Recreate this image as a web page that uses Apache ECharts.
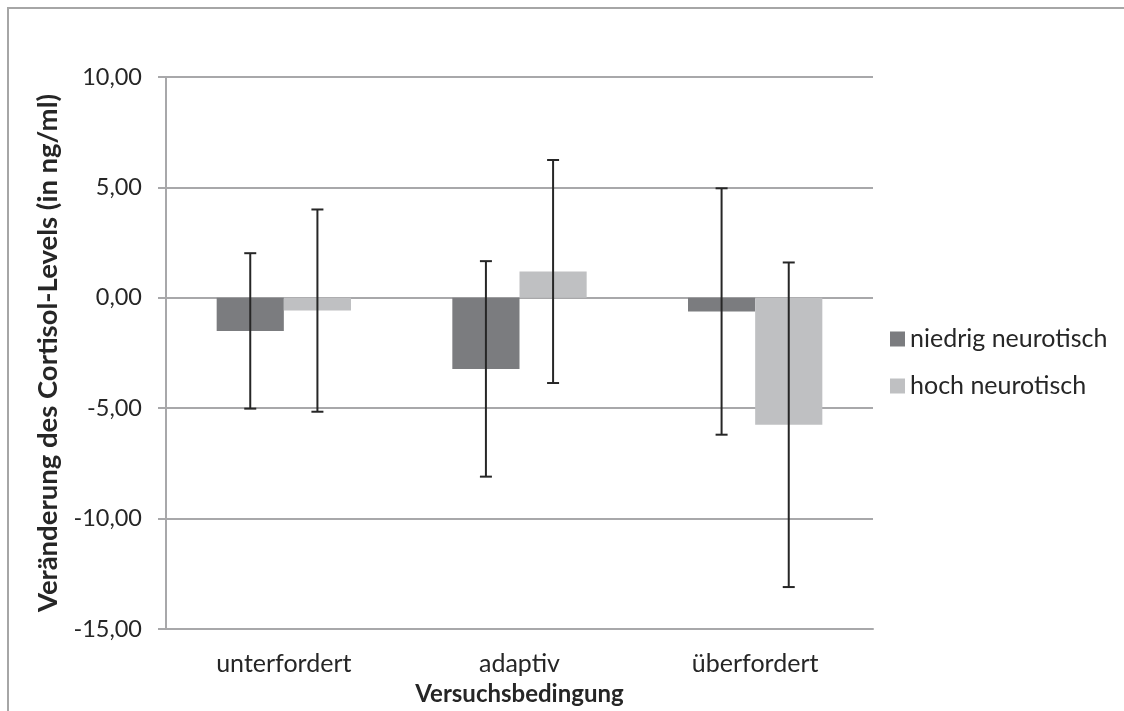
<!DOCTYPE html>
<html>
<head>
<meta charset="utf-8">
<script src="https://cdn.jsdelivr.net/npm/echarts@6/dist/echarts.min.js"></script>
<style>
  html, body { margin: 0; padding: 0; background: #fff; }
  #chart { width: 1124px; height: 711px; }
</style>
</head>
<body>
<div id="chart"></div>
<script>
(function() {
  var categories = ['unterfordert', 'adaptiv', 'überfordert'];
  var seriesNames = ['niedrig neurotisch', 'hoch neurotisch'];
  var meansLow = [-1.50, -3.22, -0.62];
  var sdLow = [3.52, 4.88, 5.58];
  var meansHigh = [-0.58, 1.19, -5.75];
  var sdHigh = [4.58, 5.05, 7.35];
  var yTicks = { min: -15, max: 10, interval: 5 };

  var dark = '#7b7c7f';
  var light = '#bfc0c2';
  var grid = '#a8a8aa';
  var ink = '#262626';
  var font = 'Lato';
  var catGap = 0.43;

  function errData(means, sd) {
    return means.map(function(m, i) { return [i, m - sd[i], m + sd[i]]; });
  }

  // error bars drawn at the centre of each bar in the group
  function errRender(side) {
    return function(params, api) {
      var i = api.value(0);
      var lo = api.coord([i, api.value(1)]);
      var hi = api.coord([i, api.value(2)]);
      var band = api.size([1, 0])[0];
      var barW = band * (1 - catGap) / 2;
      var cx = lo[0] + side * barW / 2;
      var cap = 6;
      var st = { stroke: ink, lineWidth: 2 };
      return {
        type: 'group',
        children: [
          { type: 'line', shape: { x1: cx, y1: hi[1], x2: cx, y2: lo[1] }, style: st },
          { type: 'line', shape: { x1: cx - cap, y1: hi[1], x2: cx + cap, y2: hi[1] }, style: st },
          { type: 'line', shape: { x1: cx - cap, y1: lo[1], x2: cx + cap, y2: lo[1] }, style: st }
        ]
      };
    };
  }

  var chart = echarts.init(document.getElementById('chart'), null, { renderer: 'canvas' });
  chart.setOption({
    animation: false,
    backgroundColor: '#fff',
    textStyle: { fontFamily: font },
    graphic: [{
      type: 'polyline',
      shape: { points: [[8, 711], [8, 8], [1124, 8]] },
      style: { stroke: '#a6a6a6', lineWidth: 2, fill: null }
    }],
    grid: { left: 166, right: 251, top: 77, bottom: 78 },
    legend: {
      orient: 'vertical',
      left: 885,
      top: 319,
      itemWidth: 15,
      itemHeight: 15,
      itemGap: 17,
      icon: 'rect',
      data: seriesNames,
      textStyle: { fontFamily: font, fontSize: 25, color: ink, lineHeight: 30 }
    },
    xAxis: {
      type: 'category',
      data: categories,
      name: 'Versuchsbedingung',
      nameLocation: 'middle',
      nameGap: 53,
      nameTextStyle: { fontFamily: font, fontSize: 24, fontWeight: 'bold', color: ink },
      axisLine: { onZero: false, lineStyle: { color: grid, width: 2 } },
      axisTick: { show: false },
      axisLabel: { fontSize: 25, color: ink, margin: 22 }
    },
    yAxis: {
      type: 'value',
      min: yTicks.min,
      max: yTicks.max,
      interval: yTicks.interval,
      name: 'Veränderung des Cortisol-Levels (in ng/ml)',
      nameLocation: 'middle',
      nameRotate: 90,
      nameGap: 85,
      nameTextStyle: { fontFamily: font, fontSize: 27.5, fontWeight: 'bold', color: ink },
      axisLine: { show: true, lineStyle: { color: grid, width: 2 } },
      axisTick: { show: true, length: 8, lineStyle: { color: grid, width: 2 } },
      axisLabel: {
        fontSize: 23.5, color: ink, margin: 24,
        formatter: function(v) { return v.toFixed(2).replace('.', ','); }
      },
      splitLine: { lineStyle: { color: grid, width: 2 } }
    },
    series: [
      {
        name: seriesNames[0], type: 'bar', data: meansLow,
        barCategoryGap: (catGap * 100) + '%', barGap: '0%',
        itemStyle: { color: dark }
      },
      {
        name: seriesNames[1], type: 'bar', data: meansHigh,
        barCategoryGap: (catGap * 100) + '%', barGap: '0%',
        itemStyle: { color: light }
      },
      {
        type: 'custom', data: errData(meansLow, sdLow), renderItem: errRender(-1),
        encode: { x: 0, y: [1, 2] }, z: 5
      },
      {
        type: 'custom', data: errData(meansHigh, sdHigh), renderItem: errRender(1),
        encode: { x: 0, y: [1, 2] }, z: 5
      }
    ]
  });
})();
</script>
</body>
</html>
